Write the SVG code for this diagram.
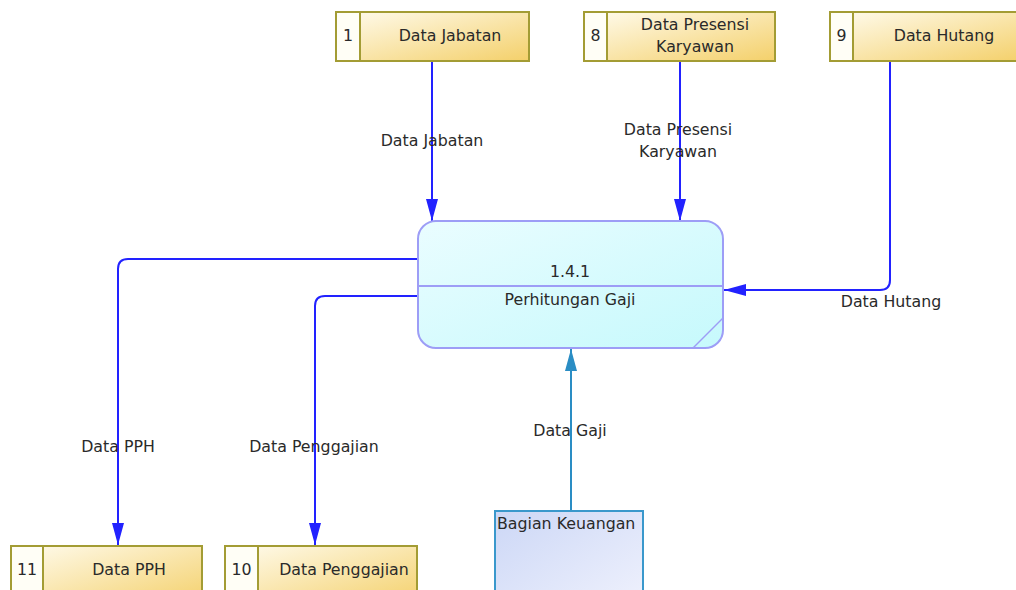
<svg xmlns="http://www.w3.org/2000/svg" width="1016" height="590" viewBox="0 0 1016 590">
<style>
text{font-family:"DejaVu Sans","Liberation Sans",sans-serif;font-size:15.8px;fill:#2a2a2a}
.c{text-anchor:middle}
.store{fill:url(#gStore);stroke:#a39c34;stroke-width:2}
.num{fill:#fffef6;stroke:#a39c34;stroke-width:2}
.flow{fill:none;stroke:#2222ff;stroke-width:2}
.flow2{fill:none;stroke:#2a8dc4;stroke-width:2}
</style>
<defs>
<linearGradient id="gStore" x1="0" y1="0" x2="1" y2="1">
<stop offset="0" stop-color="#fffcf0"/>
<stop offset="1" stop-color="#f4d06a"/>
</linearGradient>
<linearGradient id="gProc" x1="0" y1="0" x2="1" y2="1">
<stop offset="0" stop-color="#eafdff"/>
<stop offset="1" stop-color="#c6f9fc"/>
</linearGradient>
<linearGradient id="gExt" x1="0" y1="0" x2="1" y2="1">
<stop offset="0" stop-color="#ccd7f6"/>
<stop offset="1" stop-color="#f0f2fd"/>
</linearGradient>
<marker id="arr" markerUnits="userSpaceOnUse" markerWidth="22" markerHeight="12" refX="22" refY="6" orient="auto">
<path d="M0,0 L22,6 L0,12 z" fill="#2222ff"/>
</marker>
<marker id="arr2" markerUnits="userSpaceOnUse" markerWidth="22" markerHeight="12" refX="22" refY="6" orient="auto">
<path d="M0,0 L22,6 L0,12 z" fill="#2a8dc4"/>
</marker>
</defs>

<g id="connectors">
<path class="flow" d="M432,61 V221" marker-end="url(#arr)"/>
<path class="flow" d="M680,61 V221" marker-end="url(#arr)"/>
<path class="flow" d="M890,61 V280 Q890,290 880,290 H724" marker-end="url(#arr)"/>
<path class="flow" d="M418,259 H128 Q118,259 118,269 V545" marker-end="url(#arr)"/>
<path class="flow" d="M418,296 H325 Q315,296 315,306 V545" marker-end="url(#arr)"/>
<path class="flow2" d="M571,511 V349" marker-end="url(#arr2)"/>
<text class="c" x="432" y="146">Data Jabatan</text>
<text class="c" x="678" y="135">Data Presensi</text>
<text class="c" x="678" y="157">Karyawan</text>
<text class="c" x="891" y="307">Data Hutang</text>
<text class="c" x="118" y="452">Data PPH</text>
<text class="c" x="314" y="452">Data Penggajian</text>
<text class="c" x="570" y="436">Data Gaji</text>
</g>

<g id="store1">
<rect class="store" x="336" y="12" width="193" height="49"/>
<rect class="num" x="336" y="12" width="24" height="49"/>
<text class="c" x="348" y="41">1</text>
<text class="c" x="450" y="41">Data Jabatan</text>
</g>
<g id="store8">
<rect class="store" x="584" y="12" width="191" height="49"/>
<rect class="num" x="584" y="12" width="23" height="49"/>
<text class="c" x="595.5" y="41">8</text>
<text class="c" x="695" y="30">Data Presensi</text>
<text class="c" x="695" y="52">Karyawan</text>
</g>
<g id="store9">
<rect class="store" x="830" y="12" width="193" height="49"/>
<rect class="num" x="830" y="12" width="23" height="49"/>
<text class="c" x="841.5" y="41">9</text>
<text class="c" x="944" y="41">Data Hutang</text>
</g>
<g id="store11">
<rect class="store" x="11" y="546" width="191" height="60"/>
<rect class="num" x="11" y="546" width="32" height="60"/>
<text class="c" x="27" y="575">11</text>
<text class="c" x="129" y="575">Data PPH</text>
</g>
<g id="store10">
<rect class="store" x="225" y="546" width="192" height="60"/>
<rect class="num" x="225" y="546" width="33" height="60"/>
<text class="c" x="241.5" y="575">10</text>
<text class="c" x="344" y="575">Data Penggajian</text>
</g>

<g id="process141">
<rect x="418" y="221" width="305" height="127" rx="18" fill="url(#gProc)" stroke="#9d9df6" stroke-width="2"/>
<line x1="418" y1="286" x2="723" y2="286" stroke="#9d9df6" stroke-width="2"/>
<line x1="693" y1="348" x2="723" y2="318" stroke="#9d9df6" stroke-width="1.5"/>
<text class="c" x="570" y="277">1.4.1</text>
<text class="c" x="570" y="305">Perhitungan Gaji</text>
</g>

<g id="bagianKeuangan">
<rect x="495" y="511" width="148" height="100" fill="url(#gExt)" stroke="#3a98cc" stroke-width="2"/>
<text x="497" y="529">Bagian Keuangan</text>
</g>
</svg>
